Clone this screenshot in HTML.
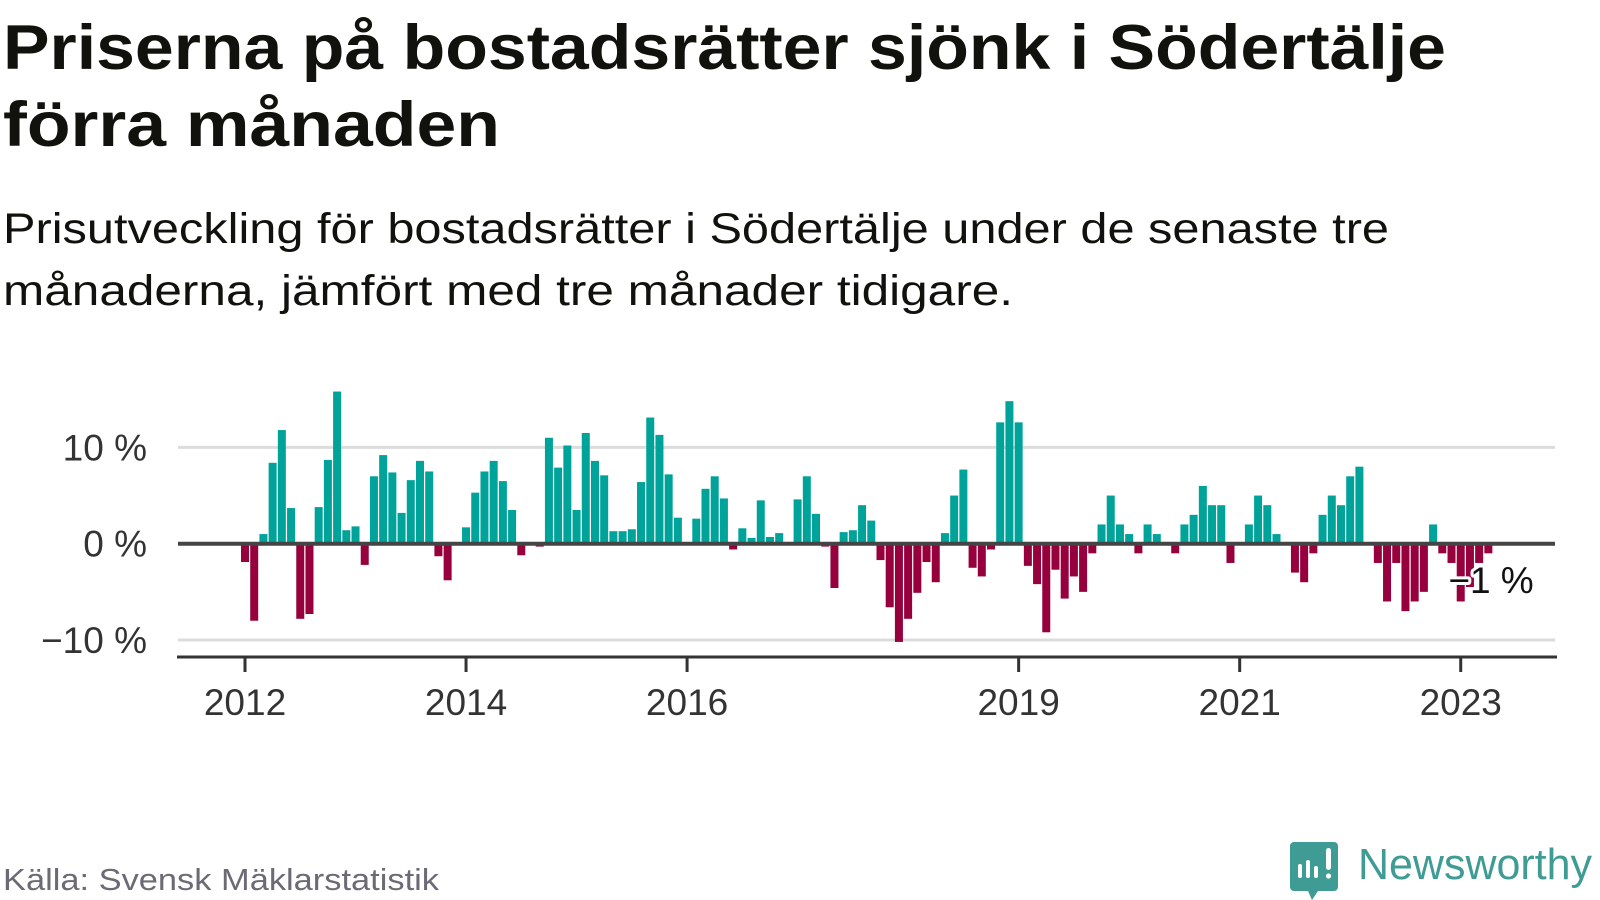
<!DOCTYPE html>
<html><head><meta charset="utf-8"><style>
html,body{margin:0;padding:0;background:#fff;width:1600px;height:900px;overflow:hidden}
svg{display:block}
text{font-family:"Liberation Sans",sans-serif}
</style></head><body>
<svg id="chart" width="1600" height="900" viewBox="0 0 1600 900">
<text x="3" y="69" font-size="63" font-weight="bold" fill="#11110e" textLength="1443" lengthAdjust="spacingAndGlyphs">Priserna på bostadsrätter sjönk i Södertälje</text>
<text x="3" y="146" font-size="63" font-weight="bold" fill="#11110e" textLength="497" lengthAdjust="spacingAndGlyphs">förra månaden</text>
<text x="3" y="243" font-size="43" fill="#11110e" textLength="1386" lengthAdjust="spacingAndGlyphs">Prisutveckling för bostadsrätter i Södertälje under de senaste tre</text>
<text x="3" y="305" font-size="43" fill="#11110e" textLength="1010" lengthAdjust="spacingAndGlyphs">månaderna, jämfört med tre månader tidigare.</text>
<g id="grid"></g><g id="bars"></g><g id="axes"></g>
<text x="3" y="890" font-size="31" fill="#6b6b75" textLength="436" lengthAdjust="spacingAndGlyphs">Källa: Svensk Mäklarstatistik</text>
<g>
<path d="M1294 842 h40 a4 4 0 0 1 4 4 v41 a4 4 0 0 1 -4 4 h-16 l-6 9 l-4 -9 h-14 a4 4 0 0 1 -4 -4 v-41 a4 4 0 0 1 4 -4z" fill="#3f9c95"/>
<rect x="1298" y="864" width="4" height="14" rx="2" fill="#fff"/><rect x="1306" y="860" width="4" height="18" rx="2" fill="#fff"/><rect x="1314" y="866" width="4" height="12" rx="2" fill="#fff"/><rect x="1326" y="848" width="5" height="22" rx="2.5" fill="#fff"/><circle cx="1328.5" cy="876" r="2.6" fill="#fff"/>
<text x="1358" y="879" font-size="44" fill="#3f9c95" textLength="234" lengthAdjust="spacingAndGlyphs">Newsworthy</text>
</g>
</svg>
<script>
const values = [-1.9,-8.0,1.0,8.4,11.8,3.7,-7.8,-7.3,3.8,8.7,15.8,1.4,
1.8,-2.2,7.0,9.2,7.4,3.2,6.6,8.6,7.5,-1.3,-3.8,0,
1.7,5.3,7.5,8.6,6.5,3.5,-1.2,0,-0.3,11.0,7.9,10.2,
3.5,11.5,8.6,7.1,1.3,1.3,1.5,6.4,13.1,11.3,7.2,2.7,
0,2.6,5.7,7.0,4.7,-0.6,1.6,0.6,4.5,0.7,1.1,0,
4.6,7.0,3.1,-0.3,-4.6,1.2,1.4,4.0,2.4,-1.7,-6.6,-10.2,
-7.8,-5.1,-1.9,-4.0,1.1,5.0,7.7,-2.5,-3.4,-0.6,12.6,14.8,
12.6,-2.3,-4.2,-9.2,-2.7,-5.7,-3.4,-5.0,-1.0,2,5,2,
1,-1,2,1,0,-1,2,3,6,4,4,-2,
0,2,5,4,1,0,-3,-4,-1,3,5,4,
7,8,0,-2,-6,-2,-7,-6,-5,2,-1,-2,
-6,-4.5,-2,-1];
const startYear = 2012;
const yTicks = [10, 0, -10];
const yTickLabels = ["10 %", "0 %", "\u221210 %"];
const xTickYears = [2012, 2014, 2016, 2019, 2021, 2023];
const lastLabel = "\u22121 %";

const NS = "http://www.w3.org/2000/svg";
const X0 = 245, STEP = 9.21, Y0 = 543.7, PX = 9.63;
const xScale = i => X0 + i * STEP;
const yScale = v => Y0 - v * PX;
function mk(tag, attrs, parent) { const e = document.createElementNS(NS, tag); for (const k in attrs) e.setAttribute(k, attrs[k]); parent.appendChild(e); return e; }
const grid = document.getElementById('grid'), bars = document.getElementById('bars'), axes = document.getElementById('axes');

yTicks.forEach((t, k) => {
  if (t !== 0) {
    const l = mk('line', {x1:178, x2:1555, y1:yScale(t), y2:yScale(t), stroke:'#dcdcdc', 'stroke-width':3}, grid);
    
    
  }
  const tx = mk('text', {x:147, y:yScale(t)+13, 'font-size':37, fill:'#333', 'text-anchor':'end'}, grid);
  tx.textContent = yTickLabels[k];
  
  
});

values.forEach((v, i) => {
  if (v === 0) return;
  const y = v > 0 ? yScale(v) : Y0;
  const r = mk('rect', {x:xScale(i)-4, y:y, width:8, height:Math.abs(v)*PX, fill: v > 0 ? '#00a39a' : '#96003c'}, bars);
  
  
});

const zl = mk('line', {x1:178, x2:1555, y1:Y0, y2:Y0, stroke:'#444', 'stroke-width':4}, axes);


const ax = mk('line', {x1:177, x2:1557, y1:657, y2:657, stroke:'#333', 'stroke-width':3}, axes);


xTickYears.forEach(yr => {
  const x = xScale((yr - startYear) * 12);
  const t = mk('line', {x1:x, x2:x, y1:657, y2:672, stroke:'#333', 'stroke-width':3}, axes);
  
  
  const tx = mk('text', {x:x, y:715, 'font-size':37, fill:'#333', 'text-anchor':'middle'}, axes);
  tx.textContent = String(yr);
  
  
});
const lx = xScale(values.length - 1) - 40;
const lab = mk('text', {x:lx, y:593, 'font-size':37, fill:'#111', stroke:'#fff', 'stroke-width':6, 'paint-order':'stroke', 'stroke-linejoin':'round'}, axes);
lab.textContent = lastLabel;


</script>
</body></html>
